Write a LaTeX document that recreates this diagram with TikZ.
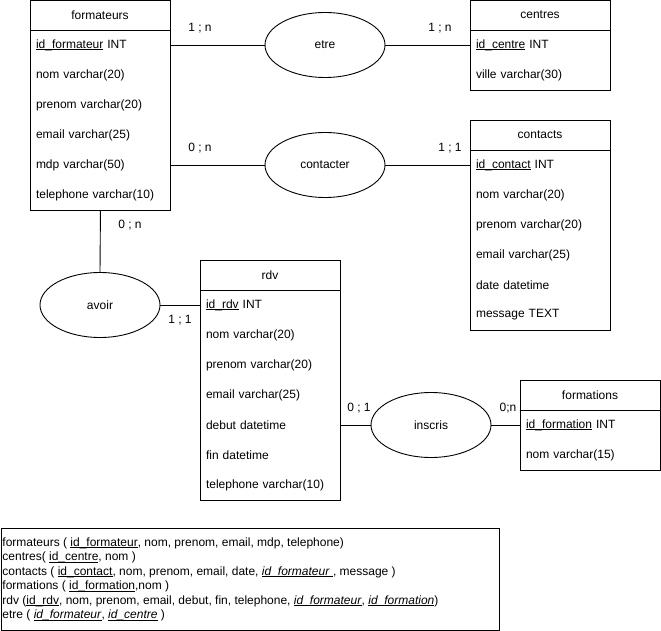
\documentclass[tikz,border=0pt]{standalone}
\usepackage{fontspec}
\setmainfont{Liberation Sans}
\usetikzlibrary{shapes.geometric}
\newcommand\myul[1]{\leavevmode\setbox0\hbox{#1}\rlap{\rule[-1.8pt]{\wd0}{0.7pt}}\box0\relax}
\begin{document}
\begin{tikzpicture}[x=1pt,y=-1pt,
  font=\fontsize{12}{14.4}\selectfont,
  every path/.style={line width=0.9pt},
  tbl/.style={draw,line width=0.9pt,minimum width=140pt,inner sep=0pt,anchor=north west},
  hdr/.style={minimum width=140pt,minimum height=30pt,inner sep=0pt},
  row/.style={minimum width=140pt,minimum height=30pt,text width=128pt,align=left,inner xsep=6pt,inner ysep=0pt},
  rel/.style={draw,ellipse,line width=0.9pt,minimum width=120pt,minimum height=65pt,inner sep=0pt},
  card/.style={inner sep=0pt},
  ln/.style={anchor=base west,inner sep=0pt}]
\useasboundingbox (0,0) rectangle (661,631);

% formateurs
\node[tbl,minimum height=210pt] (formateurs) at (30,0) {};
\node[hdr] (fh) at (100,15) {formateurs};
\draw (fh.south west) -- (fh.south east);
\node[row] (f1) at (100,45) {\myul{id\_formateur} INT};
\node[row] (f2) at (100,75) {nom varchar(20)};
\node[row] (f3) at (100,105) {prenom varchar(20)};
\node[row] (f4) at (100,135) {email varchar(25)};
\node[row] (f5) at (100,165) {mdp varchar(50)};
\node[row] (f6) at (100,195) {telephone varchar(10)};

% centres
\node[tbl,minimum height=90pt] (centres) at (470,0) {};
\node[hdr] (ch) at (540,15) {centres};
\draw (ch.south west) -- (ch.south east);
\node[row] (c1) at (540,45) {\myul{id\_centre} INT};
\node[row] (c2) at (540,75) {ville varchar(30)};

% contacts
\node[tbl,minimum height=210pt] (contacts) at (470,120) {};
\node[hdr] (kh) at (540,135) {contacts};
\draw (kh.south west) -- (kh.south east);
\node[row] (k1) at (540,165) {\myul{id\_contact} INT};
\node[row] (k2) at (540,195) {nom varchar(20)};
\node[row] (k3) at (540,225) {prenom varchar(20)};
\node[row] (k4) at (540,255) {email varchar(25)};
\node[row] (k5) at (540,285) {date datetime};
\node[row] (k6) at (540,315) {message TEXT};

% rdv
\node[tbl,minimum height=240pt] (rdv) at (200,260) {};
\node[hdr] (rh) at (270,275) {rdv};
\draw (rh.south west) -- (rh.south east);
\node[row] (r1) at (270,305) {\myul{id\_rdv} INT};
\node[row] (r2) at (270,335) {nom varchar(20)};
\node[row] (r3) at (270,365) {prenom varchar(20)};
\node[row] (r4) at (270,395) {email varchar(25)};
\node[row] (r5) at (270,425) {debut datetime};
\node[row] (r6) at (270,455) {fin datetime};
\node[row] (r7) at (270,485) {telephone varchar(10)};

% formations
\node[tbl,minimum height=90pt] (formations) at (520,380) {};
\node[hdr] (oh) at (590,395) {formations};
\draw (oh.south west) -- (oh.south east);
\node[row] (o1) at (590,425) {\myul{id\_formation} INT};
\node[row] (o2) at (590,455) {nom varchar(15)};

% relations
\node[rel] (etre) at (325,45) {etre};
\node[rel] (contacter) at (325,165) {contacter};
\node[rel] (avoir) at (100,305) {avoir};
\node[rel] (inscris) at (431,425) {inscris};

\draw (f1.east) -- (etre.west);
\draw (etre.east) -- (c1.west);
\draw (f5.east) -- (contacter.west);
\draw (contacter.east) -- (k1.west);
\draw (formateurs.south) -- (avoir.north);
\draw (avoir.east) -- (r1.west);
\draw (r5.east) -- (inscris.west);
\draw (inscris.east) -- (o1.west);

% cardinalities
\node[card] (l1) at (200,28) {1 ; n};
\node[card] (l2) at (440,28) {1 ; n};
\node[card] (l3) at (200,148) {0 ; n};
\node[card] (l4) at (450,148) {1 ; 1};
\node[card] (l5) at (130,225) {0 ; n};
\node[card] (l6) at (180,320) {1 ; 1};
\node[card] (l7) at (359,408) {0 ; 1};
\node[card] (l8) at (508,408) {0;n};

% schema box
\node[draw,line width=0.9pt,anchor=north west,minimum width=498pt,minimum height=102pt,inner sep=0pt] (schema) at (0.5,527.5) {};
\node[ln] (s1) at (2,546) {formateurs ( \myul{id\_formateur}, nom, prenom, email, mdp, telephone)};
\node[ln] (s2) at (2,560.5) {centres( \myul{id\_centre}, nom )};
\node[ln] (s3) at (2,575) {contacts ( \myul{id\_contact}, nom, prenom, email, date, \myul{\textit{id\_formateur }}, message )};
\node[ln] (s4) at (2,589.5) {formations ( \myul{id\_formation},nom )};
\node[ln] (s5) at (2,604) {rdv (\myul{id\_rdv}, nom, prenom, email, debut, fin, telephone, \myul{\textit{id\_formateur}}, \myul{\textit{id\_formation}})};
\node[ln] (s6) at (2,618.5) {etre ( \myul{\textit{id\_formateur}}, \myul{\textit{id\_centre}} )};
\end{tikzpicture}
\end{document}
